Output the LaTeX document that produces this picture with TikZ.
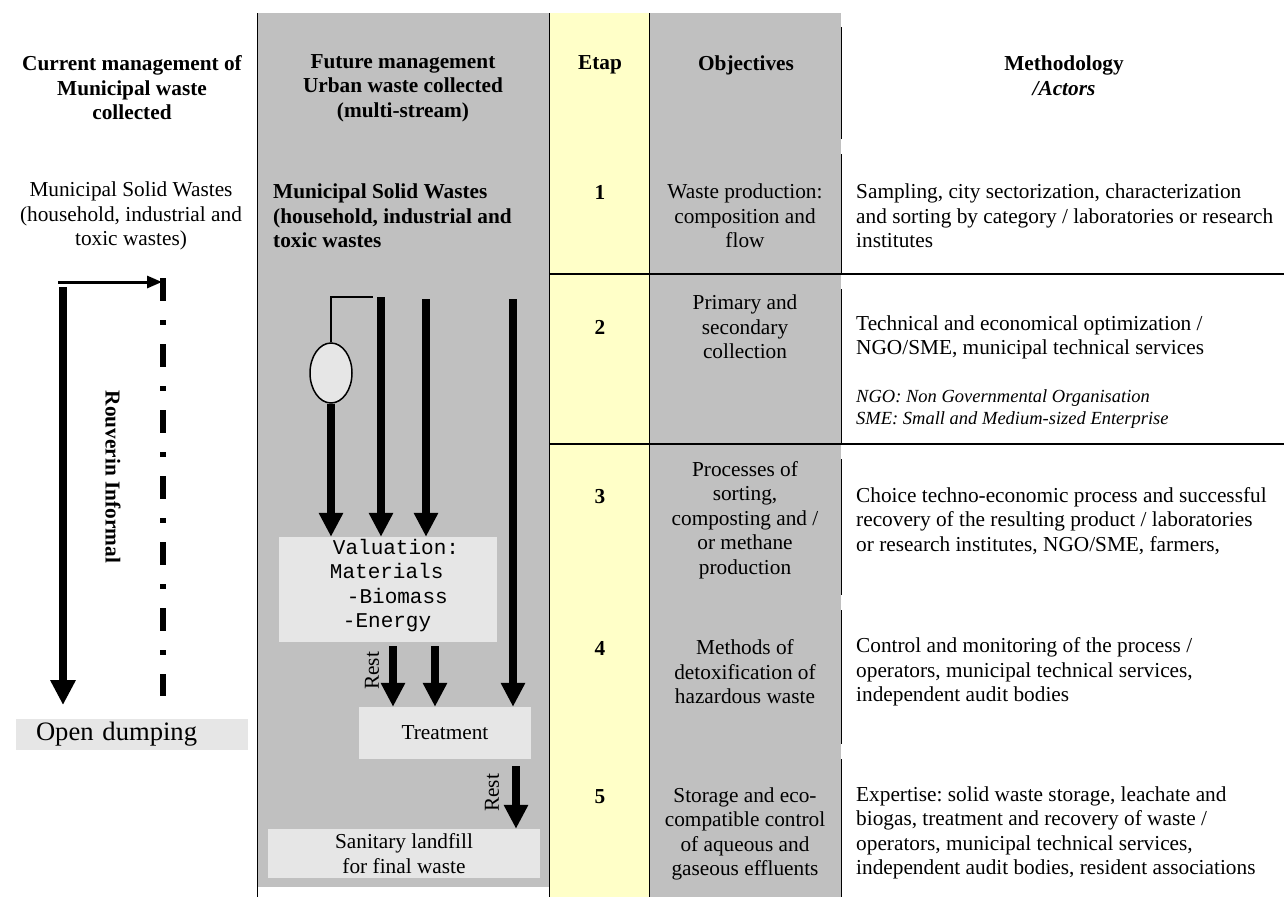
\documentclass[tikz,border=0pt]{standalone}
\usepackage{fontspec}
\setmainfont{Liberation Serif}
\setmonofont{Liberation Mono}
\usetikzlibrary{arrows.meta,shapes.geometric}
\definecolor{colgray}{HTML}{C0C0C0}
\definecolor{etapyellow}{HTML}{FFFFC8}
\definecolor{boxgray}{HTML}{E6E6E6}
\frenchspacing
\newcommand{\txt}{\fontsize{21.3}{24.5}\selectfont}
\newcommand{\notetxt}{\fontsize{18.5}{22}\selectfont}
\newcommand{\monotxt}{\ttfamily\fontsize{21}{24.3}\selectfont}
\newcommand{\dumptxt}{\fontsize{26.6}{30}\selectfont}

\begin{document}
\begin{tikzpicture}[x=1pt,y=-1pt]
\tikzstyle{every node}+=[inner sep=0pt,font=\txt]
\tikzstyle{procbox}=[fill=boxgray]
\tikzstyle{flow}=[line width=7.5pt,-{Triangle[width=23pt,length=24pt]}]
\tikzstyle{gridline}=[black,line width=1pt]
\tikzstyle{hrule}=[black,line width=1.3pt]
\useasboundingbox (0,0) rectangle (1284,897);
\fill [colgray] (258,13) rectangle (549,887);
\fill [etapyellow] (549,13) rectangle (649,897);
\fill [colgray] (649,13) rectangle (841,897);
\draw [gridline] (257.5,13) -- (257.5,897);
\draw [gridline] (549,13) -- (549,897);
\draw [gridline] (649,13) -- (649,897);
\draw [gridline] (841,27) -- (841,139);
\draw [gridline] (841,154) -- (841,274);
\draw [gridline] (841,289) -- (841,444);
\draw [gridline] (841,459) -- (841,595);
\draw [gridline] (841,610) -- (841,744);
\draw [gridline] (841,759) -- (841,897);
\draw [hrule] (549,274) -- (1284,274);
\draw [hrule] (549,444) -- (1284,444);

\node [font=\txt\bfseries, align=center] (hdcur) at (132,88) {Current management of\\Municipal waste\\collected};
\node [font=\txt\bfseries, align=center] (hdfut) at (403,88) {Future management\\Urban waste collected\\(multi-stream)};
\node [font=\txt\bfseries] (hdetap) at (600,65) {Etap};
\node [font=\txt\bfseries] (hdobj) at (746,65) {Objectives};
\node [font=\txt\bfseries, align=center] (hdmeth) at (1064,75.5) {Methodology\\\textit{/Actors}};

\node [align=center] (mswcur) at (131,216) {Municipal Solid Wastes\\(household, industrial and\\toxic wastes)};
\node [font=\txt\bfseries, align=left, anchor=west] (mswfut) at (273,216) {Municipal Solid Wastes\\(household, industrial and\\toxic wastes};

\node [font=\txt\bfseries] (etap1) at (600,192) {1};
\node [font=\txt\bfseries] (etap2) at (600,327) {2};
\node [font=\txt\bfseries] (etap3) at (600,497) {3};
\node [font=\txt\bfseries] (etap4) at (600,648) {4};
\node [font=\txt\bfseries] (etap5) at (600,797) {5};

\node [align=center] (obj1) at (745,216) {Waste production:\\composition and\\flow};
\node [align=center] (obj2) at (745,327) {Primary and\\secondary\\collection};
\node [align=center] (obj3) at (745,520) {Processes of\\sorting,\\composting and /\\or methane\\production};
\node [align=center] (obj4) at (745,672) {Methods of\\detoxification of\\hazardous waste};
\node [align=center] (obj5) at (745,834) {Storage and eco-\\compatible control\\of aqueous and\\gaseous effluents};

\node [align=left, anchor=west] (meth1) at (856,216) {Sampling, city sectorization, characterization\\and sorting by category / laboratories or research\\institutes};
\node [align=left, anchor=west] (meth2) at (856,337.5) {Technical and economical optimization /\\NGO/SME, municipal technical services};
\node [font=\notetxt\itshape, align=left, anchor=west] (meth2n) at (856,409) {NGO: Non Governmental Organisation\\SME: Small and Medium-sized Enterprise};
\node [align=left, anchor=west] (meth3) at (856,521) {Choice techno-economic process and successful\\recovery of the resulting product / laboratories\\or research institutes, NGO/SME, farmers,};
\node [align=left, anchor=west] (meth4) at (856,672) {Control and monitoring of the process /\\operators, municipal technical services,\\independent audit bodies};
\node [align=left, anchor=west] (meth5) at (856,833) {Expertise: solid waste storage, leachate and\\biogas, treatment and recovery of waste /\\operators, municipal technical services,\\independent audit bodies, resident associations};

\node [procbox, font=\dumptxt, minimum height=31pt, text width=192pt, inner xsep=20pt, align=left] (dump) at (132,734.5) {Open dumping};
\node [font=\txt\bfseries, rotate=-90] (rouv) at (113,477) {Rouverin Informal};
\coordinate (cur0) at (63,287);
\coordinate (cur1) at (63,705);
\draw [line width=8pt,-{Triangle[width=24pt,length=25pt]}] (cur0) -- (cur1);
\coordinate (inf0) at (58,282);
\coordinate (inf1) at (162,282);
\draw [line width=3pt,-{Triangle[width=12pt,length=15pt]}] (inf0) -- (inf1);
\coordinate (dd0) at (163,278);
\coordinate (dd1) at (163,696);
\draw [line width=6pt,dash pattern=on 23pt off 19pt on 5pt off 19pt] (dd0) -- (dd1);

\node [procbox, minimum width=218pt, minimum height=105pt] (valbox) at (388,589.5) {};
\node [font=\monotxt, align=left] (valtext) at (394.5,585.5) {\hspace*{3pt}Valuation:\\Materials\\\hspace*{17pt}-Biomass\\\hspace*{13pt}-Energy};
\node [procbox, minimum width=172pt, minimum height=52pt] (treat) at (445,733) {Treatment};
\node [procbox, minimum width=272pt, minimum height=49pt, align=center] (landfill) at (404,853.5) {Sanitary landfill\\for final waste};
\node [ellipse, draw, line width=1.5pt, fill=boxgray, minimum width=42pt, minimum height=60pt] (sel) at (331,373) {};
\coordinate (splitend) at (373,297);
\draw [line width=1.5pt] (sel.north) |- (splitend);
\draw [flow] (sel.south) -- (sel.south |- valbox.north);
\coordinate (a2) at (381,297);
\draw [flow] (a2) -- (a2 |- valbox.north);
\coordinate (a3) at (426,299);
\draw [flow] (a3) -- (a3 |- valbox.north);
\coordinate (a4) at (513,299);
\draw [flow] (a4) -- (a4 |- treat.north);
\coordinate (r1) at (393,646);
\draw [flow] (r1) -- (r1 |- treat.north);
\coordinate (r2) at (435,646);
\draw [flow] (r2) -- (r2 |- treat.north);
\node [rotate=90] (rest1) at (372,671) {Rest};
\coordinate (r3) at (516,766);
\draw [flow] (r3) -- (r3 |- landfill.north);
\node [rotate=90] (rest2) at (492,793) {Rest};
\end{tikzpicture}
\end{document}
